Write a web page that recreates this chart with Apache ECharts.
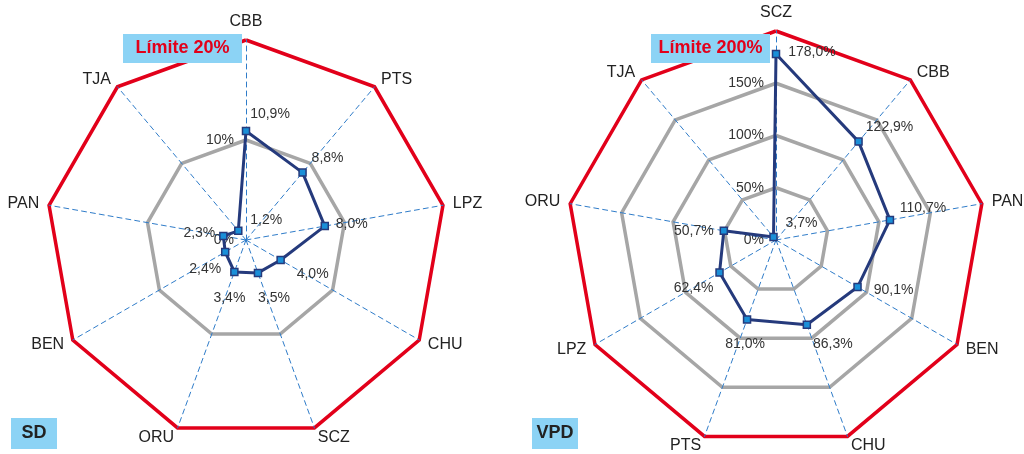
<!DOCTYPE html>
<html>
<head>
<meta charset="utf-8">
<script src="https://cdn.jsdelivr.net/npm/echarts@6/dist/echarts.min.js"></script>
<style>
html,body{margin:0;padding:0;background:#fff;}
#chart{width:1024px;height:454px;}
</style>
</head>
<body>
<div id="chart"></div>
<script>
// ---- data (clockwise order, starting at the top axis) ----
const sdCategories = ['CBB', 'PTS', 'LPZ', 'CHU', 'SCZ', 'ORU', 'BEN', 'PAN', 'TJA'];
const sdValues = [10.9, 8.8, 8.0, 4.0, 3.5, 3.4, 2.4, 2.3, 1.2];
const sdLimit = 20;
const sdTickStep = 10;
const sdTitle = 'SD';
const sdLimitText = 'Límite 20%';

const vpdCategories = ['SCZ', 'CBB', 'PAN', 'BEN', 'CHU', 'PTS', 'LPZ', 'ORU', 'TJA'];
const vpdValues = [178.0, 122.9, 110.7, 90.1, 86.3, 81.0, 62.4, 50.7, 3.7];
const vpdLimit = 200;
const vpdTickStep = 50;
const vpdTitle = 'VPD';
const vpdLimitText = 'Límite 200%';

// ---- style: label offsets from each marker (clockwise order) ----
const sdLabelOffsets = [[24,-17],[25,-14],[27,-2],[32,14],[16,25],[-5,26],[-20,17],[-24,-3],[28,-11]];
const vpdLabelOffsets = [[36,-2],[31,-14],[33,-12],[36,3],[26,19],[-2,25],[-26,16],[-30,0],[28,-14]];

const SANS = "'Liberation Sans',Arial,sans-serif";
const fmt = v => v.toFixed(1).replace('.', ',') + '%';

// ECharts lays radar indicators counter-clockwise: reorder
function ccw(arr) { return [arr[0]].concat(arr.slice(1).reverse()); }

function radarDef(cats, limit, step, center, radius) {
  const n = Math.round(limit / step);
  const colors = ['transparent'];
  for (let i = 1; i < n; i++) colors.push('#a6a6a6');
  colors.push('#e2001a');
  const ind = ccw(cats).map((c, i) => ({
    name: c, min: 0, max: limit,
    axisLabel: { show: i === 0 }
  }));
  return {
    center: center, radius: radius, startAngle: 90, splitNumber: n, shape: 'polygon',
    indicator: ind,
    axisName: { color: '#222', fontSize: 16, fontFamily: SANS },
    nameGap: 10,
    axisLine: { lineStyle: { color: '#2f7cc9', width: 1, type: [5, 4] } },
    axisTick: { show: false },
    axisLabel: {
      show: false, margin: 12, color: '#333', fontSize: 14, fontFamily: SANS,
      showMaxLabel: false,
      formatter: v => (v >= limit ? '' : v + '%')
    },
    splitLine: { show: true, lineStyle: { color: colors, width: 3.5 } },
    splitArea: { show: false }
  };
}

function seriesDef(radarIndex, vals, offsets, name) {
  const texts = vals.map(fmt);
  return {
    type: 'radar', radarIndex: radarIndex, z: 5,
    symbol: 'rect', symbolSize: 7,
    lineStyle: { color: '#253a7c', width: 3 },
    itemStyle: { color: '#1a8fd8', borderColor: '#253a7c', borderWidth: 1.5 },
    label: {
      show: true, color: '#333', fontSize: 14, fontFamily: SANS,
      formatter: p => fmt(p.value)
    },
    labelLayout: function (p) {
      const k = texts.indexOf(p.text);
      if (k < 0) return {};
      const o = offsets[k];
      return {
        x: p.rect.x + p.rect.width / 2 + o[0],
        y: p.rect.y + p.rect.height / 2 + o[1],
        align: 'center', verticalAlign: 'middle'
      };
    },
    data: [{ value: ccw(vals), name: name }]
  };
}

function box(x, y, w, h, text, color, size) {
  return {
    type: 'group', x: x, y: y,
    children: [
      { type: 'rect', z: 100, shape: { x: 0, y: 0, width: w, height: h }, style: { fill: '#8cd3f5' } },
      { type: 'text', z: 101, x: w / 2, y: h / 2, style: { text: text, fill: color, font: 'bold ' + size + 'px ' + SANS, align: 'center', verticalAlign: 'middle' } }
    ]
  };
}

const chart = echarts.init(document.getElementById('chart'), null, { renderer: 'canvas' });
chart.setOption({
  backgroundColor: '#fff',
  animation: false,
  radar: [
    radarDef(sdCategories, sdLimit, sdTickStep, [246, 240], 200),
    radarDef(vpdCategories, vpdLimit, vpdTickStep, [776, 240], 209)
  ],
  series: [
    seriesDef(0, sdValues, sdLabelOffsets, sdTitle),
    seriesDef(1, vpdValues, vpdLabelOffsets, vpdTitle)
  ],
  graphic: [
    box(123, 34, 119, 29, sdLimitText, '#e2001a', 18),
    box(651, 34, 119, 29, vpdLimitText, '#e2001a', 18),
    box(11, 418, 46, 31, sdTitle, '#222', 18),
    box(532, 418, 46, 31, vpdTitle, '#222', 18)
  ]
});
</script>
</body>
</html>
